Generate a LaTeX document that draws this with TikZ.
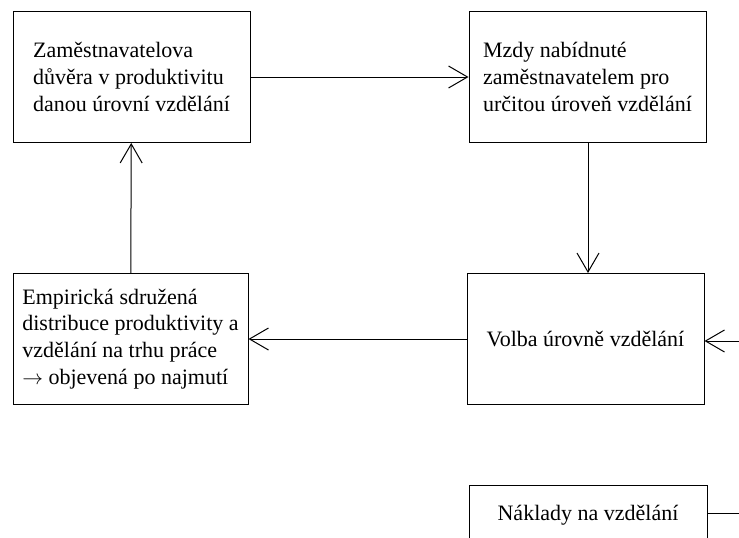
\documentclass[tikz,border=0pt]{standalone}
\usepackage{fontspec}
\setmainfont{Liberation Serif}
\usetikzlibrary{arrows.meta}
\tikzset{
  krabice/.style={draw=black, line width=1pt, align=left, inner sep=0pt,
    minimum width=237pt, minimum height=131pt,
    font=\fontsize{22}{26.7}\selectfont},
  sipka/.style={draw=black, line width=1pt, -{Straight Barb[length=19pt,width=22pt]}}
}
\begin{document}
\begin{tikzpicture}[x=1pt,y=-1pt]
\clip (0,0) rectangle (739,538);
\useasboundingbox (0,0) rectangle (739,538);
\node[krabice] (duvera) at (131.5,77) {Zaměstnavatelova\\důvěra v produktivitu\\danou úrovní vzdělání};
\node[krabice] (mzdy) at (587.5,77) {Mzdy nabídnuté\\zaměstnavatelem pro\\určitou úroveň vzdělání};
\node[krabice, minimum width=235pt] (empirie) at (130.5,339) {Empirická sdružená\\distribuce produktivity a\\vzdělání na trhu práce\\$\rightarrow$ objevená po najmutí};
\node[krabice] (volba) at (585.5,339) {Volba úrovně vzdělání};
\node[krabice, minimum width=238pt, minimum height=60pt] (naklady) at (588,515) {Náklady na vzdělání};
\coordinate (vpravo) at (750,341);
\coordinate (naklady vpravo) at (750,513);
\draw[sipka] (duvera.east) -- (mzdy.west);
\draw[sipka] (mzdy.south -| 588,0) -- (volba.north -| 588,0);
\draw[sipka] (volba.west) -- (empirie.east);
\draw[sipka] (empirie) -- (duvera);
\draw[sipka] (vpravo) -- (volba.east |- vpravo);
\draw[line width=1pt] (naklady.east |- naklady vpravo) -- (naklady vpravo);
\end{tikzpicture}
\end{document}
